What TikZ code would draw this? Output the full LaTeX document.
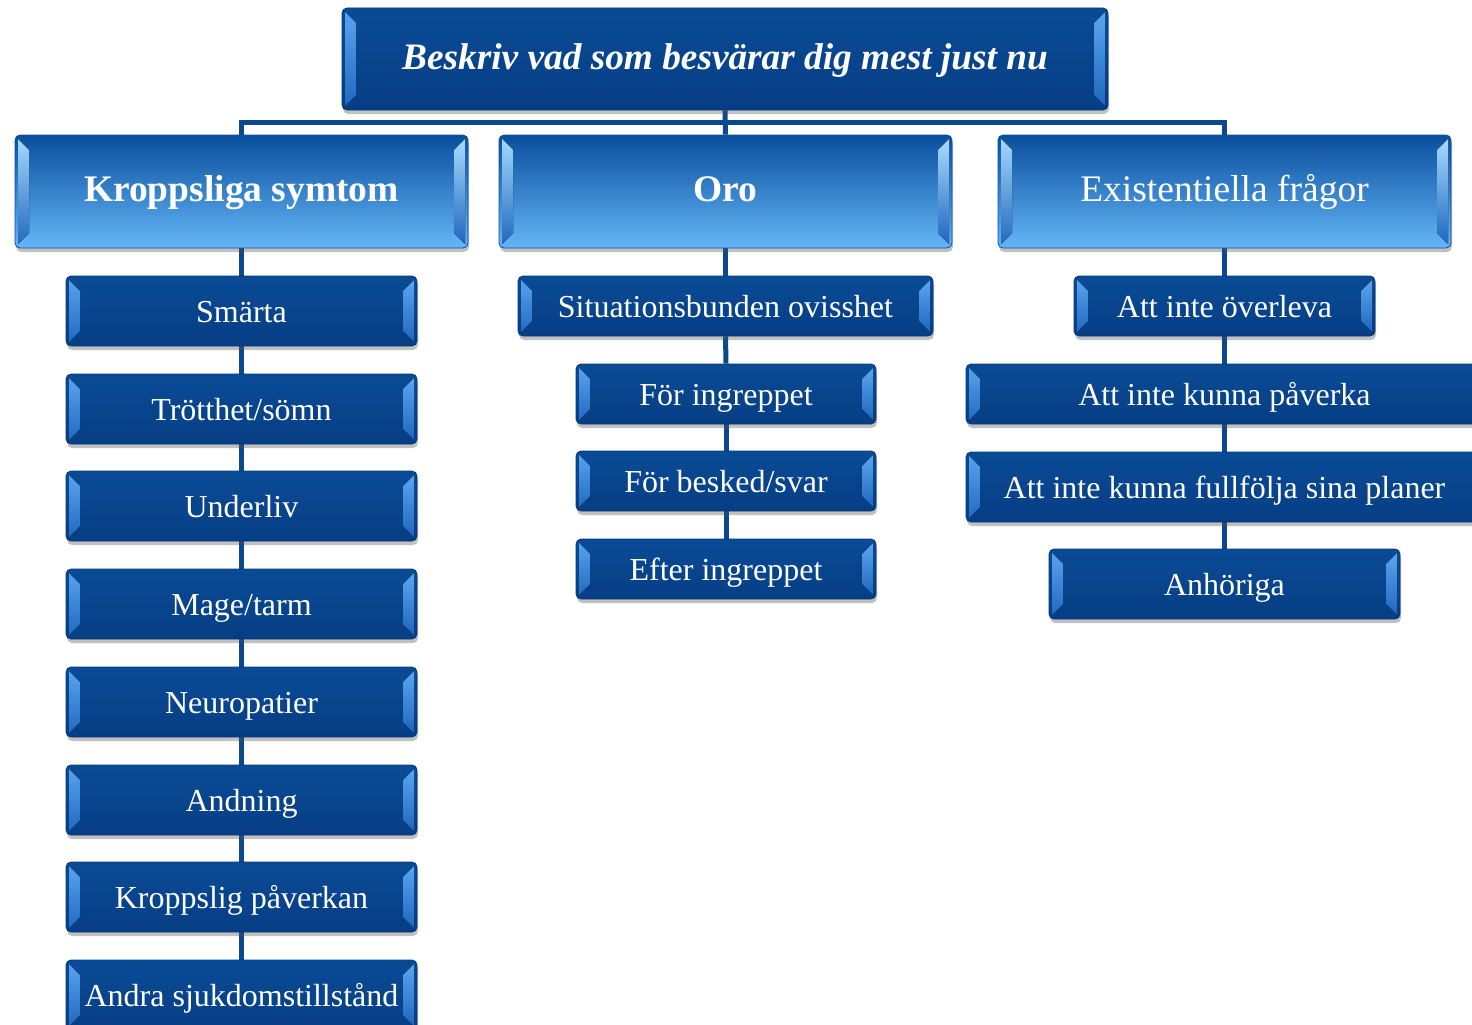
\documentclass[tikz,border=0pt]{standalone}
\usepackage{fontspec}
\setmainfont{Liberation Serif}
\usetikzlibrary{shadows,calc,backgrounds}
\definecolor{btop}{HTML}{0A4B96}
\definecolor{bmid}{HTML}{0B53A4}
\definecolor{bbot}{HTML}{063E84}
\definecolor{bedge}{HTML}{06387A}
\definecolor{ctop}{HTML}{0A4E9E}
\definecolor{cbot}{HTML}{64B6F6}
\definecolor{bevl}{HTML}{5BA6F0}
\definecolor{bevd}{HTML}{1E66BE}
\definecolor{cbevl}{HTML}{A8DCFF}
\definecolor{linec}{HTML}{0A4A8C}
\tikzset{
  boxbase/.style={rounded corners=5pt, draw=bedge, line width=0.8pt, text=white,
    inner sep=0pt, align=center, text depth=0pt,
    drop shadow={shadow xshift=1pt, shadow yshift=-4pt, opacity=0.35, fill=black!70}},
  bevels/.style={path picture={
    \fill[sharp corners, top color=#1, bottom color=bevd]
      ($(path picture bounding box.north west)+(3pt,-4pt)$) -- ++(11pt,-11pt)
      -- ($(path picture bounding box.south west)+(14pt,15pt)$) -- ++(-11pt,-11pt) -- cycle;
    \fill[sharp corners, top color=#1, bottom color=bevd]
      ($(path picture bounding box.north east)+(-3pt,-4pt)$) -- ++(-11pt,-11pt)
      -- ($(path picture bounding box.south east)+(-14pt,15pt)$) -- ++(11pt,-11pt) -- cycle;
  }},
  itembox/.style={boxbase, top color=btop, middle color=bmid, bottom color=bbot,
    bevels=bevl, text height=22pt, font=\fontsize{32}{38}\selectfont},
  catbox/.style={boxbase, draw=ctop, top color=ctop, bottom color=cbot, text height=20.5pt,
    bevels=cbevl, minimum width=453pt, minimum height=113pt, font=\fontsize{37.5}{42}\selectfont},
  topbox/.style={boxbase, top color=btop, middle color=bmid, bottom color=bbot,
    bevels=bevl, minimum width=766pt, minimum height=102pt, text height=22pt,
    font=\fontsize{37.3}{42}\selectfont\bfseries\itshape},
  conn/.style={draw=linec, line width=5pt},
}
\begin{document}
\begin{tikzpicture}[x=1pt,y=-1pt]
\useasboundingbox (0,0) rectangle (1472,1025);
\clip (0,0) rectangle (1472,1025);

\node[topbox] (top) at (725,59) {Beskriv vad som besvärar dig mest just nu};

\node[catbox, font=\fontsize{37.5}{42}\selectfont\bfseries] (k) at (241.5,191.5) {Kroppsliga symtom};
\node[catbox, font=\fontsize{37.5}{42}\selectfont\bfseries] (o) at (725.5,191.5) {Oro};
\node[catbox] (e) at (1224.5,191.5) {Existentiella frågor};

% left column
\foreach \n/\yy/\t in {k1/311/Smärta, k2/409/Trötthet\slash sömn, k3/506/Underliv,
  k4/604/Mage\slash tarm, k5/702/Neuropatier, k6/800/Andning,
  k7/897/Kroppslig påverkan, k8/995/Andra sjukdomstillstånd}
  \node[itembox, minimum width=351pt, minimum height=70pt] (\n) at (241.5,\yy) {\t};

% middle column
\node[itembox, minimum width=415pt, minimum height=60pt] (o1) at (725.5,306) {Situationsbunden ovisshet};
\node[itembox, minimum width=300pt, minimum height=60pt] (o2) at (726,394) {För ingreppet};
\node[itembox, minimum width=300pt, minimum height=60pt] (o3) at (726,481) {För besked/svar};
\node[itembox, minimum width=300pt, minimum height=60pt] (o4) at (726,569) {Efter ingreppet};

% right column
\node[itembox, minimum width=301pt, minimum height=60pt] (e1) at (1224.5,306) {Att inte överleva};
\node[itembox, minimum width=560pt, minimum height=60pt] (e2) at (1246,394) {\hspace*{-43pt}Att inte kunna påverka};
\node[itembox, minimum width=560pt, minimum height=70pt] (e3) at (1246,487) {\hspace*{-43pt}Att inte kunna fullfölja sina planer};
\node[itembox, minimum width=351pt, minimum height=70pt] (e4) at (1224.5,584) {Anhöriga};

\begin{scope}[on background layer]
  \coordinate (bar) at (725,122);
  \draw[conn] (k.north) |- (bar) -| (e.north);
  \draw[conn] (top.south) -- (o.north);
  \draw[conn] (k.south) -- (k1.north);
  \foreach \a/\b in {k1/k2,k2/k3,k3/k4,k4/k5,k5/k6,k6/k7,k7/k8}
    \draw[conn] (\a.south) -- (\b.north);
  \draw[conn] (o.south) -- (o1.north);
  \foreach \a/\b in {o1/o2,o2/o3,o3/o4}
    \draw[conn] (\a.south) -- (\b.north);
  \draw[conn] (e.south) -- (e1.north);
  \draw[conn] (e1.south) -- (e1.south |- e2.north);
  \draw[conn] (e1.south |- e2.south) -- (e1.south |- e3.north);
  \draw[conn] (e1.south |- e3.south) -- (e4.north);
\end{scope}
\end{tikzpicture}
\end{document}
